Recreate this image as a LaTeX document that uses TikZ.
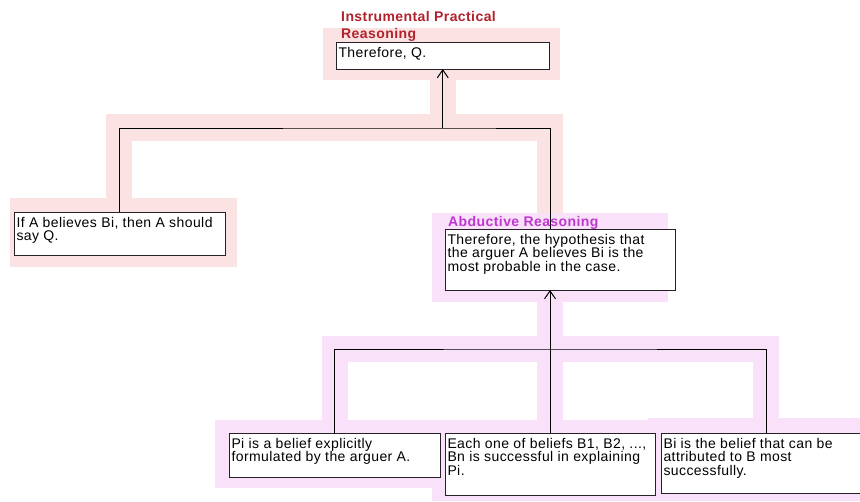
\documentclass[tikz,border=0pt]{standalone}
\usepackage{fontspec}
\setmainfont{Liberation Sans}
\newfontfamily\boxfont[LetterSpace=3]{Liberation Sans}
\newfontfamily\titlefont[LetterSpace=3]{Liberation Sans}
\usetikzlibrary{arrows.meta}
\definecolor{pinkband}{RGB}{252,227,227}
\definecolor{lavband}{RGB}{249,225,249}
\definecolor{titlered}{RGB}{178,34,44}
\definecolor{titlemag}{RGB}{190,56,208}
\definecolor{boxline}{RGB}{40,32,40}
\newcommand{\bt}[3]{\parbox[t][#2][t]{#1}{\boxfont\fontsize{14}{13.5}\selectfont\rule{0pt}{11pt}#3}}
\begin{document}
\begin{tikzpicture}[x=1pt,y=-1pt,
  box/.style={draw=boxline, line width=1pt, fill=white, anchor=north west,
    inner xsep=2.5pt, inner ysep=4pt, outer sep=0pt},
  conn/.style={draw=black, line width=1pt},
  tip/.style={-{Straight Barb[length=8pt,width=11pt,line width=1pt]}},
  ttlred/.style={inner sep=0pt, align=left, text=titlered,
    font=\titlefont\bfseries\fontsize{14}{16.5}\selectfont},
  ttlmag/.style={inner sep=0pt, align=left, text=titlemag,
    font=\titlefont\bfseries\fontsize{14}{16.5}\selectfont}]
\useasboundingbox (0,0) rectangle (860,501);
\clip (0,0) rectangle (860,501);
% pink bands (instrumental practical reasoning)
\fill[pinkband] (323,28) rectangle (560,80);
\fill[pinkband] (430,80) rectangle (456,128);
\fill[pinkband] (106,114) rectangle (563,141);
\fill[pinkband] (106,141) rectangle (132,198);
\fill[pinkband] (537,141) rectangle (563,213);
\fill[pinkband] (10,198) rectangle (237,267);
% lavender bands (abductive reasoning)
\fill[lavband] (432,213) rectangle (668,302);
\fill[lavband] (537,302) rectangle (563,336);
\fill[lavband] (322,336) rectangle (779,362);
\fill[lavband] (322,362) rectangle (348,420);
\fill[lavband] (537,362) rectangle (563,420);
\fill[lavband] (753,362) rectangle (779,420);
\fill[lavband] (215,420) rectangle (447,488);
\fill[lavband] (432,420) rectangle (668,501);
\fill[lavband] (648,418) rectangle (860,501);
% boxes
\node[box] (b0) at (336,42) {\bt{208.5pt}{19pt}{Therefore, Q.}};
\node[box] (b1) at (14,212) {\bt{206pt}{35pt}{If A believes Bi, then A should\\say Q.}};
\node[box] (b2) at (445,229) {\bt{225pt}{53pt}{Therefore, the hypothesis that\\the arguer A believes Bi is the\\most probable in the case.}};
\node[box] (b3) at (229,433) {\bt{206pt}{36pt}{Pi is a belief explicitly\\formulated by the arguer A.}};
\node[box] (b4) at (445,433) {\bt{205pt}{54pt}{Each one of beliefs B1, B2, ...,\\Bn is successful in explaining\\Pi.}};
\node[box] (b5) at (661,433) {\bt{205pt}{52pt}{Bi is the belief that can be\\attributed to B most\\successfully.}};
% connectors
\coordinate (xr) at (550,0);
\coordinate (j1) at (b0.south |- 0,128);
\coordinate (j2) at (550,349);
\draw[conn] (b1.north) |- (j1) -| (b2.north -| xr);
\draw[conn,tip] (j1) -- (b0.south);
\draw[conn] (b3.north) |- (j2) -| (b5.north);
\draw[conn] (j2) -- (b4.north);
\draw[conn,tip] (j2) -- (b2.south -| j2);
% titles
\node[ttlred, anchor=north west] (t0) at (341,11.5) {Instrumental Practical\\Reasoning};
\node[ttlmag, anchor=base west] (t2) at (448,226) {Abductive Reasoning};
\end{tikzpicture}
\end{document}
